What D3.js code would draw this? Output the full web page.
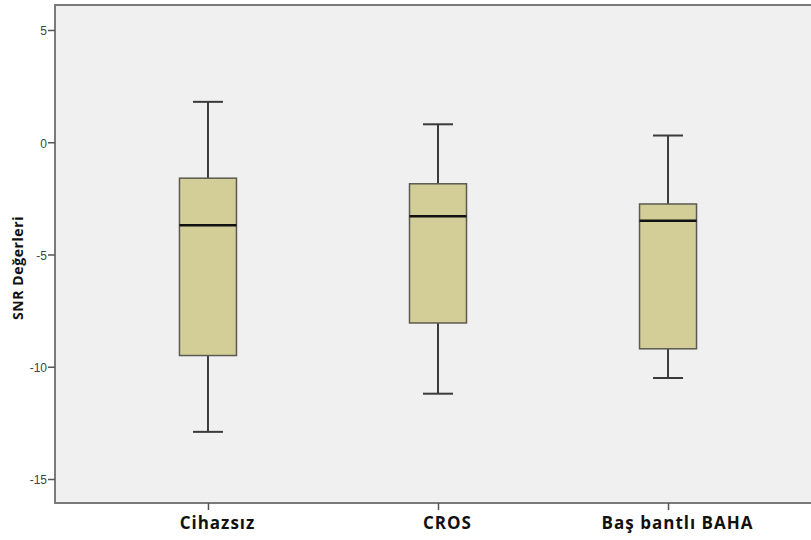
<!DOCTYPE html>
<html>
<head>
<meta charset="utf-8">
<script src="https://cdn.jsdelivr.net/npm/d3@7"></script>
<style>
  html, body { margin: 0; padding: 0; background: #ffffff; }
  svg { display: block; }
</style>
</head>
<body>
<svg id="chart" width="811" height="540"></svg>
<script>
// Groups and their five-number summaries (SNR, dB)
const groups = ["Cihazsız", "CROS", "Baş bantlı BAHA"];
const whiskerLow  = [-12.9, -11.2, -10.5];
const q1          = [-9.5,  -8.05, -9.2];
const medians     = [-3.7,  -3.3,  -3.5];
const q3          = [-1.6,  -1.85, -2.75];
const whiskerHigh = [1.8,   0.8,   0.3];
const yTicks = [5, 0, -5, -10, -15];
const yTitle = "SNR Değerleri";

const svg = d3.select("#chart");
const plot = { left: 55, top: 5, right: 821, bottom: 503 };

const y = d3.scaleLinear().domain([-15, 5]).range([479, 30]);
const x = d3.scalePoint().domain(groups).range([plot.left, plot.right]).padding(0.665);

const boxW = 57, capW = 30;

// plot background
svg.append("rect")
  .attr("x", plot.left).attr("y", plot.top)
  .attr("width", plot.right - plot.left).attr("height", plot.bottom - plot.top)
  .attr("fill", "#f0f0f0");

// boxes
const data = groups.map((g, i) => ({ g, lo: whiskerLow[i], q1: q1[i], med: medians[i], q3: q3[i], hi: whiskerHigh[i] }));
const box = svg.append("g").selectAll("g").data(data).join("g");

const lineCol = "#3a3a3a";
box.append("line")
  .attr("x1", d => x(d.g)).attr("x2", d => x(d.g))
  .attr("y1", d => y(d.hi)).attr("y2", d => y(d.q3))
  .attr("stroke", lineCol).attr("stroke-width", 2);
box.append("line")
  .attr("x1", d => x(d.g)).attr("x2", d => x(d.g))
  .attr("y1", d => y(d.q1)).attr("y2", d => y(d.lo))
  .attr("stroke", lineCol).attr("stroke-width", 2);
box.append("line")
  .attr("x1", d => x(d.g) - capW / 2).attr("x2", d => x(d.g) + capW / 2)
  .attr("y1", d => y(d.hi)).attr("y2", d => y(d.hi))
  .attr("stroke", lineCol).attr("stroke-width", 2);
box.append("line")
  .attr("x1", d => x(d.g) - capW / 2).attr("x2", d => x(d.g) + capW / 2)
  .attr("y1", d => y(d.lo)).attr("y2", d => y(d.lo))
  .attr("stroke", lineCol).attr("stroke-width", 2);
box.append("rect")
  .attr("x", d => x(d.g) - boxW / 2).attr("width", boxW)
  .attr("y", d => y(d.q3)).attr("height", d => y(d.q1) - y(d.q3))
  .attr("fill", "#d3ce97").attr("stroke", "#5a5a50").attr("stroke-width", 1.5);
box.append("line")
  .attr("x1", d => x(d.g) - boxW / 2).attr("x2", d => x(d.g) + boxW / 2)
  .attr("y1", d => y(d.med)).attr("y2", d => y(d.med))
  .attr("stroke", "#111").attr("stroke-width", 2.5);

// frame (left, top, bottom)
svg.append("path")
  .attr("d", `M${plot.right},${plot.top}H${plot.left}V${plot.bottom}H${plot.right}`)
  .attr("fill", "none").attr("stroke", "#7a7a7a").attr("stroke-width", 2);

// y axis
const yAxis = svg.append("g").attr("transform", `translate(${plot.left},0)`)
  .call(d3.axisLeft(y).tickValues(yTicks).tickSize(7).tickSizeOuter(0).tickFormat(d => String(d)));
yAxis.select(".domain").remove();
yAxis.selectAll(".tick line").attr("stroke", "#555").attr("stroke-width", 1.5);
yAxis.selectAll(".tick text")
  .attr("fill", "#444").attr("font-family", "Arial, 'Liberation Sans', sans-serif")
  .attr("font-size", 12).attr("x", -8).attr("dy", "0.4em");

// x axis
const xAxis = svg.append("g").attr("transform", `translate(0,${plot.bottom})`)
  .call(d3.axisBottom(x).tickSize(7).tickSizeOuter(0));
xAxis.select(".domain").remove();
xAxis.selectAll(".tick line").attr("stroke", "#555").attr("stroke-width", 1.5);
xAxis.selectAll(".tick text")
  .attr("fill", "#111").attr("font-family", "'Open Sans', Lato, sans-serif")
  .attr("font-weight", "bold").attr("font-size", 17).attr("letter-spacing", 1)
  .attr("dx", 9).attr("y", 14).attr("dy", "0.71em");

// y title
svg.append("text")
  .attr("transform", `translate(23,${268}) rotate(-90)`)
  .attr("text-anchor", "middle")
  .attr("font-family", "'Open Sans', Lato, sans-serif")
  .attr("font-weight", "bold").attr("font-size", 14).attr("letter-spacing", 0.6)
  .attr("fill", "#111")
  .text(yTitle);
</script>
</body>
</html>
